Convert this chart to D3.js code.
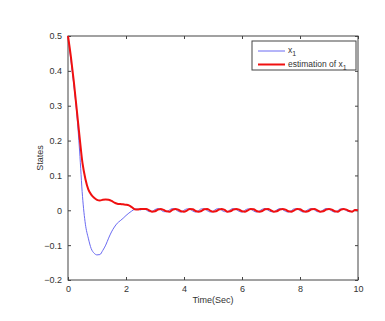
<!DOCTYPE html>
<html>
<head>
<meta charset="utf-8">
<script src="https://cdn.jsdelivr.net/npm/d3@7"></script>
<style>
  body { margin: 0; background: #fff; }
  text { font-family: "Liberation Sans", Arial, sans-serif; fill: #333; }
</style>
</head>
<body>
<svg id="chart"></svg>
<script>
const width = 385;
const height = 321;

// sampled every 0.1 s from 0 to 10 s
const dt = 0.1;
const x1Start = [0.5, 0.43, 0.36, 0.28, 0.17, 0.04, -0.04, -0.08, -0.11, -0.123, -0.128, -0.127, -0.115, -0.1, -0.08, -0.062,
  -0.048, -0.037, -0.03, -0.023, -0.015, -0.008, -0.002, 0.003, 0.004, 0.001];
const x1Tail = [
  0.004, 0.001, -0.004, -0.003, 0.002, 0.005, 0.001, -0.004, -0.004, 0.001,
  0.005, 0.003, -0.003, -0.005, 0.000, 0.004, 0.003, -0.002, -0.005, -0.001,
  0.004, 0.004, -0.001, -0.005, -0.003, 0.003, 0.005, 0.000, -0.004, -0.004,
  0.002, 0.005, 0.002, -0.003, -0.005, 0.000, 0.004, 0.003, -0.002, -0.005,
  -0.002, 0.003, 0.005, 0.000, -0.004, -0.004, 0.001, 0.005, 0.002, -0.003,
  -0.005, -0.001, 0.004, 0.004, -0.001, -0.005, -0.002, 0.003, 0.005, 0.001,
  -0.004, -0.004, 0.001, 0.005, 0.003, -0.002, -0.005, -0.001, 0.004, 0.004,
  -0.001, -0.004, -0.003, 0.002, 0.001];
const estStart = [0.5, 0.44, 0.37, 0.29, 0.21, 0.135, 0.09, 0.06, 0.045, 0.036, 0.03, 0.028, 0.03, 0.031, 0.03, 0.027,
  0.022, 0.019, 0.018, 0.017, 0.016, 0.014, 0.009, 0.003, 0.002, 0.004];
const estTail = [
  0.004, 0.004, 0.000, -0.004, -0.003, 0.002, 0.004, 0.001, -0.003, -0.004,
  0.001, 0.004, 0.002, -0.003, -0.004, -0.001, 0.004, 0.003, -0.002, -0.004,
  -0.002, 0.003, 0.004, -0.001, -0.004, -0.003, 0.002, 0.004, 0.001, -0.004,
  -0.003, 0.002, 0.004, 0.002, -0.003, -0.004, 0.000, 0.004, 0.003, -0.002,
  -0.004, -0.002, 0.003, 0.004, 0.000, -0.004, -0.003, 0.002, 0.004, 0.002,
  -0.003, -0.004, 0.000, 0.004, 0.003, -0.002, -0.004, -0.002, 0.003, 0.004,
  0.000, -0.004, -0.003, 0.002, 0.004, 0.002, -0.003, -0.004, 0.001, 0.004,
  0.002, -0.002, -0.004, 0.001, 0.000];
const x1 = x1Start.concat(x1Tail);
const estimation = estStart.concat(estTail);

const xTicks = [0, 2, 4, 6, 8, 10];
const yTicks = [0.5, 0.4, 0.3, 0.2, 0.1, 0, -0.1, -0.2];

const margin = { top: 36, right: 27, bottom: 41, left: 68 };
const svg = d3.select("#chart").attr("width", width).attr("height", height);

const x = d3.scaleLinear().domain([0, 10]).range([margin.left, width - margin.right]);
const y = d3.scaleLinear().domain([-0.2, 0.5]).range([height - margin.bottom, margin.top]);

const axisColor = "#444";
const fmt = (d) => (d === 0 ? "0" : d3.format(".1f")(d));

// frame
svg.append("rect")
  .attr("x", x(0)).attr("y", y(0.5))
  .attr("width", x(10) - x(0)).attr("height", y(-0.2) - y(0.5))
  .attr("fill", "#fff").attr("stroke", axisColor).attr("stroke-width", 1);

const styleAxis = (g) => {
  g.select(".domain").remove();
  g.selectAll(".tick line").attr("stroke", axisColor);
  g.selectAll(".tick text").style("font-size", "9px").attr("fill", "#333");
};

svg.append("g").attr("transform", `translate(0,${y(-0.2)})`)
  .call(d3.axisBottom(x).tickValues(xTicks).tickSizeInner(-3).tickSizeOuter(0).tickPadding(6))
  .call(styleAxis);
svg.append("g").attr("transform", `translate(0,${y(0.5)})`)
  .call(d3.axisTop(x).tickValues(xTicks).tickSizeInner(-3).tickSizeOuter(0).tickFormat(""))
  .call(styleAxis);
svg.append("g").attr("transform", `translate(${x(0)},0)`)
  .call(d3.axisLeft(y).tickValues(yTicks).tickSizeInner(-3).tickSizeOuter(0).tickPadding(6).tickFormat(fmt))
  .call(styleAxis);
svg.append("g").attr("transform", `translate(${x(10)},0)`)
  .call(d3.axisRight(y).tickValues(yTicks).tickSizeInner(-3).tickSizeOuter(0).tickFormat(""))
  .call(styleAxis);

const line = d3.line()
  .x((d, i) => x(i * dt))
  .y((d) => y(d))
  .curve(d3.curveMonotoneX);

svg.append("path").datum(x1)
  .attr("d", line).attr("fill", "none")
  .attr("stroke", "#6a6af2").attr("stroke-width", 1);
svg.append("path").datum(estimation)
  .attr("d", line).attr("fill", "none")
  .attr("stroke", "#f01010").attr("stroke-width", 2);

// axis labels
svg.append("text")
  .attr("x", (x(0) + x(10)) / 2).attr("y", 303)
  .attr("text-anchor", "middle").style("font-size", "9px")
  .text("Time(Sec)");
svg.append("text")
  .attr("transform", `translate(43,${(y(0.5) + y(-0.2)) / 2}) rotate(-90)`)
  .attr("text-anchor", "middle").style("font-size", "9px")
  .text("States");

// legend
const legend = svg.append("g").attr("transform", "translate(252,41)");
legend.append("rect")
  .attr("width", 104).attr("height", 29)
  .attr("fill", "#fff").attr("stroke", axisColor);
const items = [
  { label: "x", sub: "1", color: "#6a6af2", w: 1 },
  { label: "estimation of x", sub: "1", color: "#f01010", w: 2 }
];
items.forEach((it, i) => {
  const yy = 10 + i * 13.5;
  legend.append("line")
    .attr("x1", 6).attr("x2", 33).attr("y1", yy).attr("y2", yy)
    .attr("stroke", it.color).attr("stroke-width", it.w);
  const t = legend.append("text").attr("x", 36).attr("y", yy + 2).style("font-size", "8.5px");
  t.append("tspan").text(it.label);
  t.append("tspan").attr("dy", 3).style("font-size", "7px").text(it.sub);
});
</script>
</body>
</html>
